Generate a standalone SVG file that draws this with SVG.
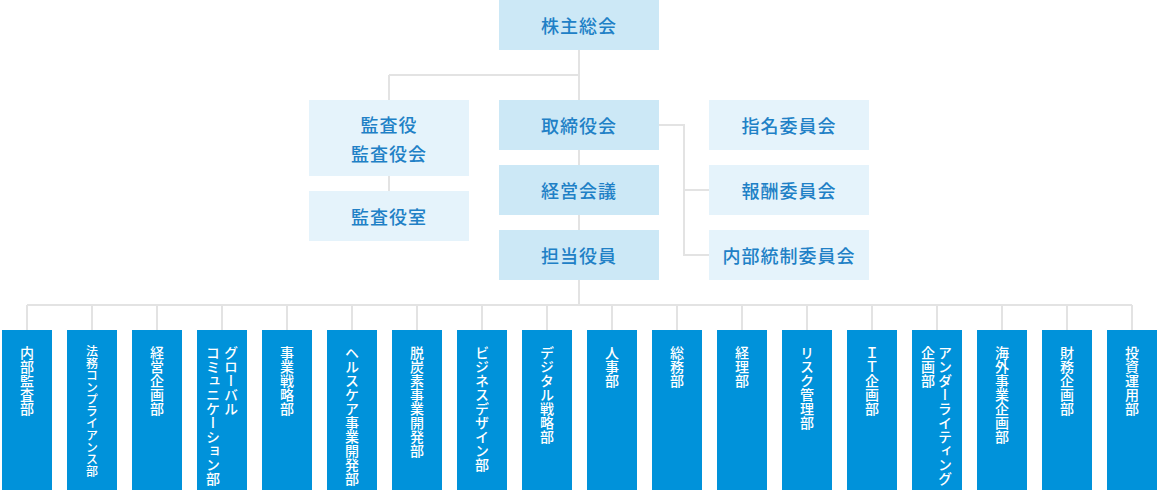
<svg xmlns="http://www.w3.org/2000/svg" width="1160" height="490" viewBox="0 0 1160 490">
<style>
.bg{fill:#ffffff}
.main{fill:#cce8f6}
.sub{fill:#e5f3fb}
.dept{fill:#0092da}
.lbl{font-family:"Noto Sans CJK JP","Noto Sans",sans-serif;font-size:18px;font-weight:500;fill:#2080c6;text-anchor:middle;dominant-baseline:central;letter-spacing:1px}
.vt{font-family:"Noto Sans CJK JP","Noto Sans",sans-serif;font-size:14px;font-weight:500;fill:#ffffff;writing-mode:vertical-rl;text-anchor:start}
.sm{font-size:12px}
.ln{stroke:#e3e3e3;stroke-width:2;fill:none}
</style>
<rect class="bg" x="0" y="0" width="1160" height="490"/>
<g id="connectors">
<path class="ln" d="M579 50V305M389 75H579M389 75V100M389 176V191M659 125H684V255H709M684 190H709"/>
<path class="ln" d="M27 305H1132"/>
<path class="ln" d="M27 305V330M92 305V330M157 305V330M222 305V330M287 305V330M352 305V330M417 305V330M482 305V330M547 305V330M612 305V330M677 305V330M742 305V330M807 305V330M872 305V330M937 305V330M1002 305V330M1067 305V330M1132 305V330"/>
</g>
<g id="n-kabunushi"><rect class="main" x="499" y="0" width="160" height="50"/><text class="lbl" x="579" y="25">株主総会</text></g>
<g id="n-kansayaku"><rect class="sub" x="309" y="100" width="160" height="76"/><text class="lbl" x="389" y="124">監査役</text><text class="lbl" x="389" y="153">監査役会</text></g>
<g id="n-kansayakushitsu"><rect class="sub" x="309" y="191" width="160" height="50"/><text class="lbl" x="389" y="216">監査役室</text></g>
<g id="n-torishimariyaku"><rect class="main" x="499" y="100" width="160" height="50"/><text class="lbl" x="579" y="125">取締役会</text></g>
<g id="n-keiei"><rect class="main" x="499" y="165" width="160" height="50"/><text class="lbl" x="579" y="190">経営会議</text></g>
<g id="n-tanto"><rect class="main" x="499" y="230" width="160" height="50"/><text class="lbl" x="579" y="255">担当役員</text></g>
<g id="n-shimei"><rect class="sub" x="709" y="100" width="160" height="50"/><text class="lbl" x="789" y="125">指名委員会</text></g>
<g id="n-hoshu"><rect class="sub" x="709" y="165" width="160" height="50"/><text class="lbl" x="789" y="190">報酬委員会</text></g>
<g id="n-naibutosei"><rect class="sub" x="709" y="230" width="160" height="50"/><text class="lbl" x="789" y="255">内部統制委員会</text></g>
<g id="d01"><rect class="dept" x="2" y="330" width="50" height="160"/><text class="vt" x="27" y="346">内部監査部</text></g>
<g id="d02"><rect class="dept" x="67" y="330" width="50" height="160"/><text class="vt sm" x="92" y="345">法務コンプライアンス部</text></g>
<g id="d03"><rect class="dept" x="132" y="330" width="50" height="160"/><text class="vt" x="157" y="346">経営企画部</text></g>
<g id="d04"><rect class="dept" x="197" y="330" width="50" height="160"/><text class="vt" x="231" y="346">グローバル</text><text class="vt" x="213" y="346">コミュニケーション部</text></g>
<g id="d05"><rect class="dept" x="262" y="330" width="50" height="160"/><text class="vt" x="287" y="346">事業戦略部</text></g>
<g id="d06"><rect class="dept" x="327" y="330" width="50" height="160"/><text class="vt" x="352" y="346">ヘルスケア事業開発部</text></g>
<g id="d07"><rect class="dept" x="392" y="330" width="50" height="160"/><text class="vt" x="417" y="346">脱炭素事業開発部</text></g>
<g id="d08"><rect class="dept" x="457" y="330" width="50" height="160"/><text class="vt" x="482" y="346">ビジネスデザイン部</text></g>
<g id="d09"><rect class="dept" x="522" y="330" width="50" height="160"/><text class="vt" x="547" y="346">デジタル戦略部</text></g>
<g id="d10"><rect class="dept" x="587" y="330" width="50" height="160"/><text class="vt" x="612" y="346">人事部</text></g>
<g id="d11"><rect class="dept" x="652" y="330" width="50" height="160"/><text class="vt" x="677" y="346">総務部</text></g>
<g id="d12"><rect class="dept" x="717" y="330" width="50" height="160"/><text class="vt" x="742" y="346">経理部</text></g>
<g id="d13"><rect class="dept" x="782" y="330" width="50" height="160"/><text class="vt" x="807" y="346">リスク管理部</text></g>
<g id="d14"><rect class="dept" x="847" y="330" width="50" height="160"/><text class="vt" x="872" y="346">ＩＴ企画部</text></g>
<g id="d15"><rect class="dept" x="912" y="330" width="50" height="160"/><text class="vt" x="945" y="346">アンダーライティング</text><text class="vt" x="928" y="346">企画部</text></g>
<g id="d16"><rect class="dept" x="977" y="330" width="50" height="160"/><text class="vt" x="1002" y="346">海外事業企画部</text></g>
<g id="d17"><rect class="dept" x="1042" y="330" width="50" height="160"/><text class="vt" x="1067" y="346">財務企画部</text></g>
<g id="d18"><rect class="dept" x="1107" y="330" width="50" height="160"/><text class="vt" x="1132" y="346">投資運用部</text></g>
</svg>
